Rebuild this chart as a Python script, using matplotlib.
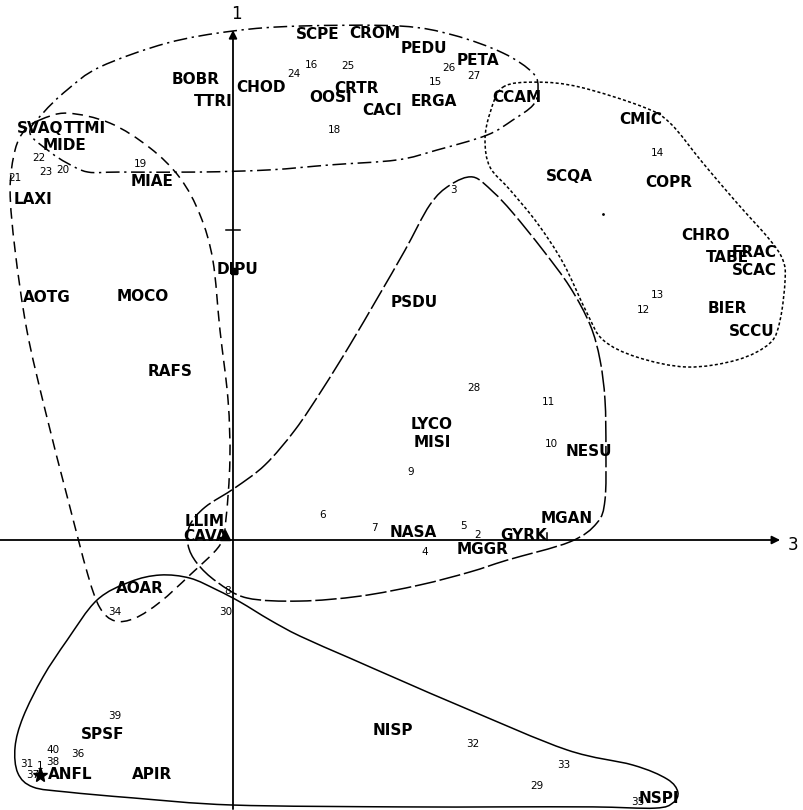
import numpy as np
import matplotlib
matplotlib.use('Agg')
import matplotlib.pyplot as plt
from matplotlib.path import Path
from matplotlib.patches import PathPatch

# especies: codigo y coordenadas (ejes 3 y 1)
species = ['SCPE', 'CROM', 'PEDU', 'PETA', 'BOBR', 'CHOD', 'TTRI', 'CRTR', 'OOSI',
           'CACI', 'ERGA', 'CCAM', 'SVAQ', 'TTMI', 'MIDE', 'MIAE', 'LAXI', 'DIPU',
           'AOTG', 'MOCO', 'RAFS', 'PSDU', 'LYCO', 'MISI', 'NESU', 'MGAN', 'GYRK',
           'NASA', 'MGGR', 'LLIM', 'CAVA', 'AOAR', 'SPSF', 'ANFL', 'APIR', 'NISP',
           'NSPI', 'SCQA', 'CMIC', 'COPR', 'CHRO', 'TABE', 'FRAC', 'SCAC', 'BIER', 'SCCU']
sp_x = [0.274, 0.458, 0.616, 0.790, -0.119, 0.090, -0.065, 0.397, 0.316,
        0.481, 0.648, 0.916, -0.623, -0.477, -0.542, -0.261, -0.645, 0.016,
        -0.600, -0.290, -0.203, 0.584, 0.642, 0.642, 1.148, 1.077, 0.939,
        0.581, 0.806, -0.090, -0.090, -0.300, -0.419, -0.526, -0.261, 0.516,
        1.374, 1.084, 1.316, 1.406, 1.523, 1.594, 1.681, 1.681, 1.594, 1.674]
sp_y = [1.632, 1.635, 1.587, 1.548, 1.487, 1.461, 1.416, 1.458, 1.429,
        1.387, 1.416, 1.426, 1.329, 1.329, 1.274, 1.155, 1.097, 0.871,
        0.781, 0.784, 0.545, 0.765, 0.371, 0.313, 0.287, 0.068, 0.016,
        0.023, -0.032, 0.061, 0.010, -0.158, -0.629, -0.758, -0.755, -0.613,
        -0.835, 1.174, 1.355, 1.152, 0.981, 0.910, 0.926, 0.868, 0.748, 0.671]

# estaciones de muestreo
sites = ['1', '2', '3', '4', '5', '6', '7', '8', '9', '10', '11', '12', '13', '14',
         '15', '16', '18', '19', '20', '21', '22', '23', '24', '25', '26', '27',
         '28', '29', '30', '31', '32', '33', '34', '35', '36', '37', '38', '39', '40']
st_x = [-0.623, 0.790, 0.710, 0.619, 0.742, 0.290, 0.455, -0.016, 0.574, 1.026,
        1.019, 1.323, 1.368, 1.368, 0.652, 0.252, 0.326, -0.297, -0.548, -0.703,
        -0.626, -0.603, 0.197, 0.371, 0.697, 0.777, 0.777, 0.981, -0.023, -0.665,
        0.774, 1.068, -0.381, 1.306, -0.500, -0.645, -0.581, -0.381, -0.581]
st_y = [-0.729, 0.016, 1.129, -0.039, 0.045, 0.081, 0.039, -0.165, 0.219, 0.310,
        0.445, 0.742, 0.790, 1.248, 1.477, 1.532, 1.323, 1.213, 1.194, 1.168,
        1.232, 1.187, 1.503, 1.529, 1.523, 1.497, 0.490, -0.794, -0.232, -0.723,
        -0.658, -0.726, -0.232, -0.845, -0.690, -0.758, -0.716, -0.568, -0.677]

# contornos de los grupos
grupo_sup = [(-0.655, 1.313), (-0.613, 1.377), (-0.535, 1.452), (-0.429, 1.526),
             (-0.213, 1.603), (0.000, 1.642), (0.216, 1.658), (0.539, 1.658),
             (0.710, 1.629), (0.871, 1.571), (0.968, 1.506), (0.984, 1.452),
             (0.968, 1.403), (0.903, 1.355), (0.819, 1.306), (0.658, 1.258),
             (0.529, 1.226), (0.313, 1.210), (0.119, 1.194), (-0.106, 1.187),
             (-0.365, 1.187), (-0.468, 1.187), (-0.535, 1.216), (-0.590, 1.252)]
grupo_izq = [(-0.623, 1.355), (-0.535, 1.377), (-0.397, 1.345), (-0.268, 1.265),
             (-0.171, 1.168), (-0.106, 1.048), (-0.065, 0.903), (-0.042, 0.677),
             (-0.016, 0.452), (-0.010, 0.258), (-0.023, 0.065), (-0.042, -0.016),
             (-0.139, -0.113), (-0.235, -0.200), (-0.316, -0.252), (-0.381, -0.261),
             (-0.429, -0.219), (-0.468, -0.113), (-0.532, 0.129), (-0.606, 0.419),
             (-0.665, 0.677), (-0.703, 0.935), (-0.719, 1.129), (-0.703, 1.258),
             (-0.671, 1.323)]
grupo_cen = [(0.774, 1.171), (0.700, 1.145), (0.635, 1.081), (0.555, 0.935),
             (0.468, 0.784), (0.377, 0.629), (0.287, 0.484), (0.200, 0.355),
             (0.103, 0.242), (0.006, 0.168), (-0.090, 0.106), (-0.139, 0.048),
             (-0.145, -0.016), (-0.116, -0.075), (-0.052, -0.135), (0.045, -0.187),
             (0.216, -0.197), (0.410, -0.181), (0.603, -0.145), (0.765, -0.103),
             (0.884, -0.065), (1.087, -0.006), (1.174, 0.055), (1.200, 0.129),
             (1.203, 0.290), (1.200, 0.452), (1.184, 0.581), (1.152, 0.694),
             (1.087, 0.816), (1.000, 0.935), (0.903, 1.055), (0.839, 1.123)]
grupo_der = [(0.871, 1.461), (0.981, 1.477), (1.119, 1.461), (1.323, 1.397),
             (1.410, 1.345), (1.516, 1.216), (1.626, 1.087), (1.732, 0.968),
             (1.774, 0.903), (1.781, 0.839), (1.765, 0.710), (1.732, 0.635),
             (1.626, 0.581), (1.465, 0.558), (1.303, 0.590), (1.194, 0.645),
             (1.142, 0.732), (1.065, 0.894), (0.981, 1.023), (0.894, 1.129),
             (0.829, 1.203), (0.813, 1.290), (0.829, 1.377)]
grupo_inf = [(-0.439, -0.194), (-0.332, -0.135), (-0.235, -0.113), (-0.139, -0.123),
             (-0.052, -0.161), (0.023, -0.200), (0.119, -0.258), (0.216, -0.310),
             (0.377, -0.381), (0.539, -0.452), (0.755, -0.545), (1.077, -0.677),
             (1.290, -0.726), (1.400, -0.771), (1.435, -0.813), (1.419, -0.848),
             (1.361, -0.865), (1.161, -0.861), (0.861, -0.861), (0.539, -0.861),
             (0.000, -0.855), (-0.323, -0.832), (-0.535, -0.813), (-0.645, -0.797),
             (-0.694, -0.752), (-0.703, -0.668), (-0.677, -0.571), (-0.613, -0.442),
             (-0.535, -0.323)]


def curva_cerrada(pts):
    # curva suave (Catmull-Rom pasada a Bezier) por los puntos del contorno
    p = np.asarray(pts, dtype=float)
    n = len(p)
    verts = [p[0]]
    codes = [Path.MOVETO]
    for i in range(n):
        p0, p1, p2, p3 = p[i - 1], p[i], p[(i + 1) % n], p[(i + 2) % n]
        verts += [p1 + (p2 - p0) / 6, p2 - (p3 - p1) / 6, p2]
        codes += [Path.CURVE4] * 3
    return Path(verts, codes)


fig = plt.figure(figsize=(8.04, 8.10), dpi=100)
ax = fig.add_axes([0, 0, 1, 1])
ax.set_xlim(-0.7516, 1.842)
ax.set_ylim(-0.871, 1.742)
ax.axis('off')

estilos = [(grupo_sup, (0, (9, 3, 1.5, 3))),
           (grupo_izq, (0, (7, 4))),
           (grupo_cen, (0, (14, 2.5))),
           (grupo_der, (0, (2, 1.5))),
           (grupo_inf, '-')]
for pts, ls in estilos:
    ax.add_patch(PathPatch(curva_cerrada(pts), fill=False, lw=1.1, ls=ls, color='k'))

# ejes 1 (vertical) y 3 (horizontal)
ax.annotate('', xy=(0, 1.645), xytext=(0, -0.868),
            arrowprops=dict(arrowstyle='-|>', lw=1.3, color='k', mutation_scale=12,
                            shrinkA=0, shrinkB=0))
ax.annotate('', xy=(1.765, 0), xytext=(-0.752, 0),
            arrowprops=dict(arrowstyle='-|>', lw=1.3, color='k', mutation_scale=12,
                            shrinkA=0, shrinkB=0))
ax.plot([-0.022, 0.022], [1.0, 1.0], color='k', lw=1.1)
ax.plot([1.013, 1.013], [0, 0.022], color='k', lw=1.1)
ax.text(0.010, 1.697, '1', fontsize=12, ha='center', va='center')
ax.text(1.808, -0.016, '3', fontsize=12, ha='center', va='center')

# marcas sueltas
ax.plot([-0.026], [0.016], marker='^', ms=7, color='k', ls='none')
ax.plot([0.003], [0.868], marker='s', ms=4, color='k', ls='none')
ax.plot([-0.623], [-0.758], marker='*', ms=11, color='k', ls='none')
ax.plot([1.194], [1.052], marker='.', ms=2, color='k', ls='none')

for nombre, x, y in zip(species, sp_x, sp_y):
    ax.text(x, y, nombre, fontsize=11, fontweight='bold', ha='center', va='center',
            family='DejaVu Sans')
for nombre, x, y in zip(sites, st_x, st_y):
    ax.text(x, y, nombre, fontsize=7.5, ha='center', va='center', family='DejaVu Sans')

fig.savefig('out.png', dpi=100, facecolor='white')
